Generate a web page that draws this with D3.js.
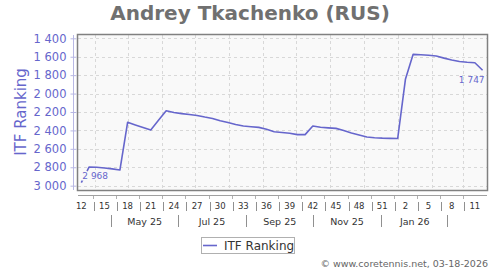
<!DOCTYPE html>
<html>
<head>
<meta charset="utf-8">
<script src="https://cdn.jsdelivr.net/npm/d3@7"></script>
<style>
  body { margin: 0; background: #fff; }
  text { font-family: "DejaVu Sans", Verdana, sans-serif; }
</style>
</head>
<body>
<div id="chart"></div>
<script>
// ranking data (one point a week, first one Thu 2025-03-20, last is current)
var firstDate = "2025-03-20";
var rankings = [2968, 2798, 2800, 2808, 2818, 2830, 2312, 2340, 2368, 2396,
    2290, 2186, 2205, 2218, 2228, 2238, 2255, 2270, 2296, 2315,
    2335, 2352, 2360, 2367, 2387, 2414, 2422, 2430, 2446, 2446,
    2352, 2366, 2372, 2378, 2400, 2428, 2450, 2472, 2480, 2484,
    2486, 2487, 1845, 1574, 1578, 1584, 1592, 1615, 1635, 1652,
    1660, 1665, 1747];

var yTicks = [1400, 1600, 1800, 2000, 2200, 2400, 2600, 2800, 3000];
var weekLabels = ["12", "15", "18", "21", "24", "27", "30", "33", "36",
    "39", "42", "45", "48", "51", "2", "5", "8", "11"];
var monthLabels = ["May 25", "Jul 25", "Sep 25", "Nov 25", "Jan 26"];
var monthLabelStarts = ["2025-05-01", "2025-07-01", "2025-09-01", "2025-11-01", "2026-01-01"];
var monthSepStarts = ["2025-04-01", "2025-06-01", "2025-08-01", "2025-10-01", "2025-12-01", "2026-02-01"];

var svgWidth = 500;
var svgHeight = 270;
var plot = { left: 78, right: 487, top: 35, bottom: 190 };
var blue = "#6666cc";

var parse = d3.timeParse("%Y-%m-%d");
var start = parse(firstDate);
var data = rankings.map(function(r, i) {
    return { date: d3.timeWeek.offset(start, i), rank: r };
});

var fmt = d3.formatLocale({ decimal: ".", thousands: " ", grouping: [3], currency: ["", ""] }).format(",d");

var svg = d3.select("#chart")
    .append("svg")
    .attr("width", svgWidth)
    .attr("height", svgHeight);

// scales
var xScale = d3.scaleTime()
    .domain([parse("2025-03-17"), parse("2026-03-23")])
    .range([plot.left, plot.right]);

var yScale = d3.scaleLinear()
    .domain([1364, 3047])
    .range([plot.top, plot.bottom]);

// title
svg.append("text")
    .attr("x", 250)
    .attr("y", 20)
    .attr("text-anchor", "middle")
    .attr("font-size", 20)
    .attr("font-weight", "bold")
    .attr("fill", "#707070")
    .text("Andrey Tkachenko (RUS)");

// plot background
svg.append("rect")
    .attr("x", plot.left)
    .attr("y", plot.top)
    .attr("width", plot.right - plot.left)
    .attr("height", plot.bottom - plot.top)
    .attr("fill", "#f9f9f9");

// grid
var months = d3.timeMonth.range(parse("2025-04-01"), parse("2026-03-02"));
svg.append("g").selectAll("line")
    .data(months)
    .enter()
    .append("line")
    .attr("x1", d => Math.round(xScale(d)) + 0.5)
    .attr("x2", d => Math.round(xScale(d)) + 0.5)
    .attr("y1", plot.top)
    .attr("y2", plot.bottom)
    .attr("stroke", "#d8d8d8")
    .attr("stroke-dasharray", "3,3");

svg.append("g").selectAll("line")
    .data(yTicks)
    .enter()
    .append("line")
    .attr("x1", plot.left)
    .attr("x2", plot.right)
    .attr("y1", d => Math.round(yScale(d)) + 0.5)
    .attr("y2", d => Math.round(yScale(d)) + 0.5)
    .attr("stroke", "#d8d8d8")
    .attr("stroke-dasharray", "3,3");

// frame
svg.append("rect")
    .attr("x", plot.left - 0.5)
    .attr("y", plot.top - 0.5)
    .attr("width", plot.right - plot.left + 1)
    .attr("height", plot.bottom - plot.top + 1)
    .attr("fill", "none")
    .attr("stroke", "#808080")
    .attr("stroke-width", 1.5);

// y axis
var yAxis = d3.axisLeft(yScale)
    .tickValues(yTicks)
    .tickSize(3)
    .tickFormat(fmt);

var yG = svg.append("g")
    .attr("transform", "translate(73.5, 0)")
    .call(yAxis);
yG.select(".domain").attr("stroke", "#b8b8e4").attr("d", "M0," + plot.top + "V" + plot.bottom);
yG.selectAll(".tick line").attr("stroke", "#b8b8e4").attr("x2", 3).attr("x1", -3);
yG.selectAll(".tick text")
    .attr("x", -7)
    .attr("fill", blue)
    .attr("font-size", 11.5)
    .attr("font-family", "DejaVu Sans, sans-serif");

svg.append("text")
    .attr("transform", "rotate(-90)")
    .attr("x", -112)
    .attr("y", 26)
    .attr("text-anchor", "middle")
    .attr("font-size", 15)
    .attr("fill", blue)
    .text("ITF Ranking");

// x axis: weeks row
var weekDates = weekLabels.map((w, i) => data[i * 3].date);
var weekSeps = weekDates.slice(1).map((d, i) => new Date((d.getTime() + weekDates[i].getTime()) / 2));

svg.append("line")
    .attr("x1", plot.left)
    .attr("x2", plot.right)
    .attr("y1", 195.5)
    .attr("y2", 195.5)
    .attr("stroke", "#a0a0a0");

svg.append("g").selectAll("line")
    .data(weekSeps)
    .enter()
    .append("line")
    .attr("x1", d => Math.round(xScale(d)) + 0.5)
    .attr("x2", d => Math.round(xScale(d)) + 0.5)
    .attr("y1", 196)
    .attr("y2", 199)
    .attr("stroke", "#b0b0b0");

svg.append("g").selectAll("line")
    .data(weekSeps)
    .enter()
    .append("line")
    .attr("x1", d => Math.round(xScale(d)) + 1.5)
    .attr("x2", d => Math.round(xScale(d)) + 1.5)
    .attr("y1", 202)
    .attr("y2", 211)
    .attr("stroke", "#909090");

svg.append("g").selectAll("text")
    .data(weekLabels)
    .enter()
    .append("text")
    .attr("x", (d, i) => xScale(weekDates[i]))
    .attr("y", 209)
    .attr("text-anchor", "middle")
    .attr("font-size", 8.5)
    .attr("fill", "#333")
    .text(d => d);

// x axis: months row
svg.append("g").selectAll("text")
    .data(monthLabels)
    .enter()
    .append("text")
    .attr("x", (d, i) => {
        var m = parse(monthLabelStarts[i]);
        return (xScale(m) + xScale(d3.timeMonth.offset(m, 1))) / 2;
    })
    .attr("y", 225)
    .attr("text-anchor", "middle")
    .attr("font-size", 9.5)
    .attr("fill", "#333")
    .text(d => d);

svg.append("g").selectAll("line")
    .data(monthSepStarts)
    .enter()
    .append("line")
    .attr("x1", d => {
        var m = parse(d);
        return Math.round((xScale(m) + xScale(d3.timeMonth.offset(m, 1))) / 2) + 0.5;
    })
    .attr("x2", d => {
        var m = parse(d);
        return Math.round((xScale(m) + xScale(d3.timeMonth.offset(m, 1))) / 2) + 0.5;
    })
    .attr("y1", 215)
    .attr("y2", 227)
    .attr("stroke", "#909090");

// ranking line
var line = d3.line()
    .x(d => xScale(d.date))
    .y(d => yScale(d.rank));

svg.append("path")
    .datum(data)
    .attr("d", line)
    .attr("fill", "none")
    .attr("stroke", blue)
    .attr("stroke-width", 1.6)
    .attr("stroke-linejoin", "round");

// first and last value labels
var first = data[0];
var last = data[data.length - 1];

svg.append("text")
    .attr("x", xScale(first.date) + 1)
    .attr("y", yScale(first.rank) - 4)
    .attr("font-size", 9)
    .attr("fill", blue)
    .attr("stroke", "#f9f9f9")
    .attr("stroke-width", 3)
    .attr("paint-order", "stroke")
    .text(fmt(first.rank));

svg.append("text")
    .attr("x", xScale(last.date) + 2)
    .attr("y", yScale(last.rank) + 13)
    .attr("text-anchor", "end")
    .attr("font-size", 9)
    .attr("fill", blue)
    .text(fmt(last.rank));

// legend
svg.append("rect")
    .attr("x", 201.5)
    .attr("y", 237.5)
    .attr("width", 93)
    .attr("height", 16)
    .attr("fill", "#fff")
    .attr("stroke", "#b0b0b0");

svg.append("line")
    .attr("x1", 203)
    .attr("x2", 217)
    .attr("y1", 245.5)
    .attr("y2", 245.5)
    .attr("stroke", blue)
    .attr("stroke-width", 1.6);

svg.append("text")
    .attr("x", 224)
    .attr("y", 250)
    .attr("font-size", 12)
    .attr("fill", "#333")
    .text("ITF Ranking");

// footer
svg.append("text")
    .attr("x", 488)
    .attr("y", 267)
    .attr("text-anchor", "end")
    .attr("font-size", 9.5)
    .attr("fill", "#666")
    .text("© www.coretennis.net, 03-18-2026");
</script>
</body>
</html>
